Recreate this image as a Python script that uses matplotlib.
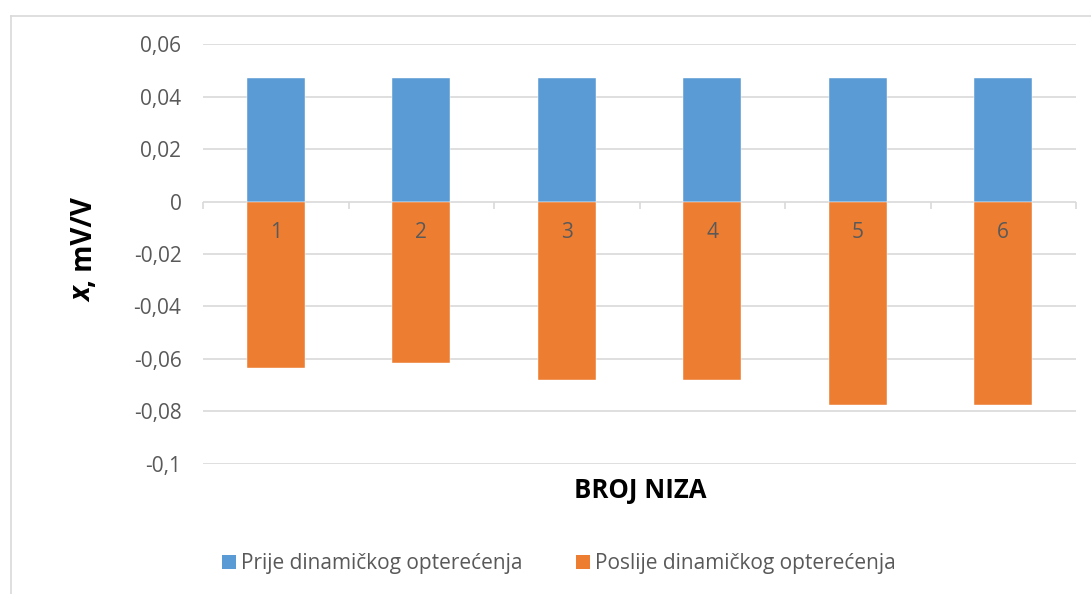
import matplotlib
matplotlib.use("Agg")
import matplotlib.pyplot as plt
from matplotlib.lines import Line2D
from matplotlib.patches import Patch
import numpy as np

categories = ["1", "2", "3", "4", "5", "6"]
prije = [0.0471, 0.0471, 0.0471, 0.0471, 0.0472, 0.0472]
poslije = [-0.0634, -0.0614, -0.0682, -0.0682, -0.0775, -0.0775]
yticks = [0.06, 0.04, 0.02, 0.0, -0.02, -0.04, -0.06, -0.08, -0.1]
ytick_labels = ["0,06", "0,04", "0,02", "0", "-0,02", "-0,04", "-0,06", "-0,08", "-0,1"]
series_names = ["Prije dinamičkog opterećenja", "Poslije dinamičkog opterećenja"]

blue = "#5b9bd5"
orange = "#ed7d31"
grid = "#d9d9d9"
txt = "#595959"

plt.rcParams['font.family'] = ['Open Sans', 'DejaVu Sans']

W, H = 1091, 594
fig = plt.figure(figsize=(W/100, H/100), dpi=100)
ax = fig.add_axes([203/W, 1-463.7/H, (1076-203)/W, (463.7-44.3)/H])

x = np.arange(len(categories))
ax.bar(x, prije, width=0.4, color=blue, zorder=3, edgecolor='white', linewidth=0.3)
ax.bar(x, poslije, width=0.4, color=orange, zorder=3, edgecolor='white', linewidth=0.3)

ax.set_xlim(-0.5, len(categories)-0.5)
ax.set_ylim(-0.1, 0.06)
ax.set_yticks(yticks)
ax.set_yticklabels(ytick_labels)
ax.tick_params(axis='y', length=0, labelsize=15, labelcolor=txt, pad=15.5)
ax.set_xticks([])
for s in ax.spines.values():
    s.set_visible(False)
ax.yaxis.grid(True, color=grid, linewidth=1.2, zorder=0)

# zero-line ticks at category boundaries
bounds = np.arange(len(categories)+1) - 0.5
ax.plot(bounds, np.zeros_like(bounds), linestyle='none', marker=3, markersize=5,
        color=grid, markeredgewidth=1.2, zorder=2, clip_on=False)

# category labels just below zero line
for xi, c in zip(x, categories):
    ax.annotate(c, (xi, 0), xytext=(0, -22.5), textcoords='offset points',
                ha='center', va='center', fontsize=15, color=txt, zorder=4)

# y label: italic bold x followed by ", mV/V"
ylab_x = 84/W
split_y = 1-287/H
fig.text(ylab_x, split_y, "x", rotation=90, ha='center', va='top',
         fontsize=20, fontweight='bold', fontstyle='italic', color='black')
fig.text(ylab_x, split_y, ", mV/V", rotation=90, ha='center', va='bottom',
         fontsize=20, fontweight='bold', color='black')

fig.text(640/W, 1-490/H, "BROJ NIZA", ha='center', va='center', fontsize=18.5,
         fontweight='bold', color='black')

handles = [Patch(facecolor=blue), Patch(facecolor=orange)]
fig.legend(handles, series_names, loc='center', bbox_to_anchor=(559/W, 1-564/H),
           ncol=2, frameon=False, fontsize=15, labelcolor=txt, handlelength=0.65,
           handleheight=0.65, handletextpad=0.25, columnspacing=2.6,
           borderpad=0, borderaxespad=0)

# chart border
fig.add_artist(Line2D([10.5/W, 1], [1-15.5/H, 1-15.5/H], color=grid, linewidth=1.2))
fig.add_artist(Line2D([10.5/W, 10.5/W], [0, 1-15.5/H], color=grid, linewidth=1.2))

fig.savefig("out.png", dpi=100)
